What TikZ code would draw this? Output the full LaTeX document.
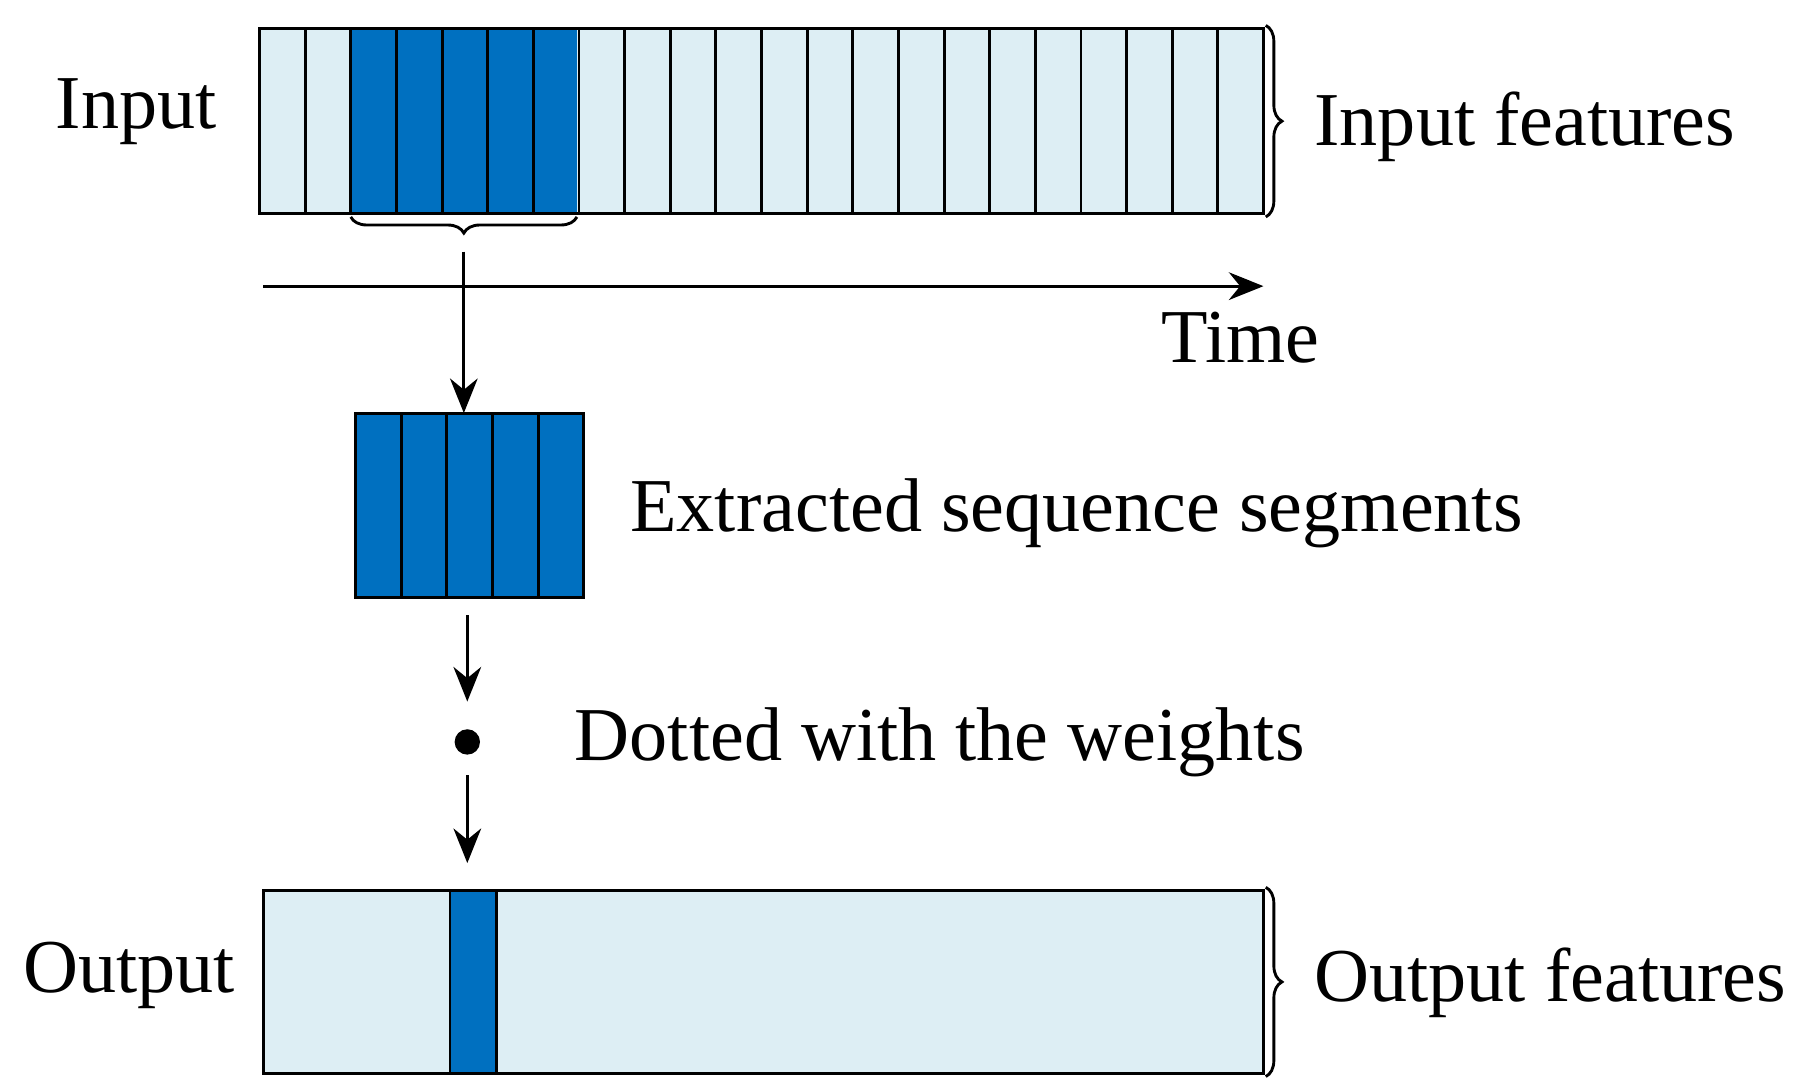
\documentclass[tikz,border=0pt]{standalone}
\usepackage{fontspec}
\setmainfont{Liberation Serif}
\usetikzlibrary{decorations.pathreplacing,arrows.meta}
\definecolor{lightc}{HTML}{DDEEF4}
\definecolor{darkc}{HTML}{0070C0}
\begin{document}
\begin{tikzpicture}[x=1pt,y=-1pt,line width=2.5pt,
  lbl/.style={font=\fontsize{66}{78}\selectfont,inner sep=0pt},
  arr/.style={-{Stealth[length=30pt,width=24pt]}},
  br/.style={decorate,decoration={brace,amplitude=14pt}}]
\useasboundingbox (0,0) rectangle (1560,945);
% input
\fill[lightc] (225,25) rectangle (1095,185);
\fill[darkc] (304,25) rectangle (500,185);
\foreach \i in {1,...,21} \draw (225+\i*39.545,25) -- (225+\i*39.545,185);
\draw (225,25) rectangle (1095,185);
\node (inr) at (1095,105) {};
\draw[br] (1097,22) -- (1097,188);
\draw[br] (500,188) -- (304,188) coordinate[midway,yshift=-0pt] (bt);
\coordinate (btip) at (402,218);
% time
\coordinate (t0) at (228,248); \coordinate (t1) at (1095,248);
\draw[arr] (t0) -- (t1);
\node[lbl] at (1075,293) {Time};
% segments
\fill[darkc] (308,358) rectangle (506,518);
\foreach \i in {1,...,4} \draw (308+\i*39.6,358) -- (308+\i*39.6,518);
\draw (308,358) rectangle (506,518);
\coordinate (segtop) at (402,358);
\draw[arr] (btip) -- (segtop);
\coordinate (a1) at (405,533); \coordinate (a2) at (405,608);
\draw[arr] (a1) -- (a2);
\fill (405,643) circle (11pt);
\coordinate (b1) at (405,672); \coordinate (b2) at (405,748);
\draw[arr] (b1) -- (b2);
% output
\fill[lightc] (228,772) rectangle (1095,930);
\fill[darkc] (390,772) rectangle (430,930);
\draw (390,772) -- (390,930) (430,772) -- (430,930);
\draw (228,772) rectangle (1095,930);
\draw[br] (1097,769) -- (1097,933);
% labels
\node[lbl] at (118,97) {Input};
\node[lbl,anchor=west] at (1138,110) {Input features};
\node[lbl,anchor=west] at (545,445) {Extracted sequence segments};
\node[lbl,anchor=west] at (497,643) {Dotted with the weights};
\node[lbl] at (112,845) {Output};
\node[lbl,anchor=west] at (1138,852) {Output features};
\end{tikzpicture}
\end{document}
